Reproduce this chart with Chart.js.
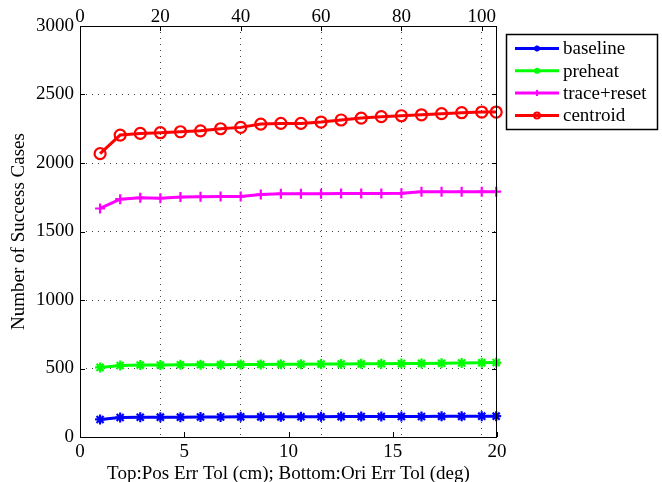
<!DOCTYPE html>
<html lang="en">
<head>
    <meta charset="UTF-8">
    <title>Number of Success Cases</title>
    <script src="https://cdn.jsdelivr.net/npm/chart.js"></script>
    <style>
        body {
            margin: 0;
            background: #ffffff;
        }
        #chart {
            display: block;
        }
    </style>
</head>
<body>
    <canvas id="chart" width="662" height="482"></canvas>

    <script>
        // position tolerance (cm) on the top axis; last point sits on the right edge
        var posTolCm = [5, 10, 15, 20, 25, 30, 35, 40, 45, 50, 55, 60, 65, 70, 75, 80, 85, 90, 95, 100, 103.6];

        var baseline   = [128, 142, 144, 145, 145, 146, 146, 147, 147, 147, 148, 148, 149, 149, 150, 150, 150, 151, 151, 152, 152];
        var preheat    = [508, 522, 525, 525, 527, 528, 528, 530, 530, 531, 531, 532, 533, 534, 535, 536, 537, 538, 540, 542, 543];
        var traceReset = [1668, 1736, 1746, 1743, 1751, 1753, 1756, 1756, 1770, 1775, 1775, 1775, 1778, 1777, 1778, 1779, 1790, 1790, 1790, 1791, 1791];
        var centroid   = [2068, 2204, 2216, 2221, 2228, 2235, 2250, 2260, 2284, 2289, 2289, 2299, 2314, 2328, 2338, 2345, 2352, 2360, 2367, 2372, 2372];

        var seriesNames = ["baseline", "preheat", "trace+reset", "centroid"];
        var seriesColors = ["#0000ff", "#00ff00", "#ff00ff", "#ff0000"];
        var seriesMarkers = ["star", "star", "cross", "circle"];

        var FONT = '"Liberation Serif", "Times New Roman", serif';

        function toPoints(ys) {
            return ys.map(function (y, i) { return { x: posTolCm[i], y: y }; });
        }

        var datasets = [baseline, preheat, traceReset, centroid].map(function (ys, i) {
            var isCircle = seriesMarkers[i] === "circle";
            return {
                label: seriesNames[i],
                data: toPoints(ys),
                xAxisID: "x",
                yAxisID: "y",
                borderColor: seriesColors[i],
                backgroundColor: seriesColors[i],
                borderWidth: 3,
                pointStyle: seriesMarkers[i],
                pointRadius: isCircle ? 5.5 : 5,
                pointBorderWidth: 2.2,
                pointBorderColor: seriesColors[i],
                pointBackgroundColor: isCircle ? "rgba(0,0,0,0)" : seriesColors[i],
                tension: 0,
                clip: false
            };
        });

        // box around the plot + inward tick marks, like matlab
        var frameTicks = {
            id: "frameTicks",
            afterDraw: function (chart) {
                var ctx = chart.ctx, a = chart.chartArea;
                ctx.save();
                ctx.strokeStyle = "#000";
                ctx.lineWidth = 1;
                ctx.strokeRect(a.left + 0.5, a.top + 0.5, a.right - a.left - 1, a.bottom - a.top);
                ctx.beginPath();
                chart.scales.y.ticks.forEach(function (t) {
                    var py = Math.round(chart.scales.y.getPixelForValue(t.value)) + 0.5;
                    ctx.moveTo(a.left, py); ctx.lineTo(a.left + 5, py);
                    ctx.moveTo(a.right, py); ctx.lineTo(a.right - 5, py);
                });
                chart.scales.x.ticks.forEach(function (t) {
                    var px = Math.round(chart.scales.x.getPixelForValue(t.value)) + 0.5;
                    ctx.moveTo(px, a.top); ctx.lineTo(px, a.top + 5);
                });
                chart.scales.xb.ticks.forEach(function (t) {
                    var px = Math.round(chart.scales.xb.getPixelForValue(t.value)) + 0.5;
                    ctx.moveTo(px, a.bottom); ctx.lineTo(px, a.bottom - 5);
                });
                ctx.stroke();
                ctx.restore();
            }
        };

        // legend box on the right, line + marker per entry
        var boxLegend = {
            id: "boxLegend",
            afterDraw: function (chart) {
                var ctx = chart.ctx;
                var left = 506, top = 34, w = 151, h = 95;
                ctx.save();
                ctx.fillStyle = "#fff";
                ctx.fillRect(left, top, w, h);
                ctx.strokeStyle = "#000";
                ctx.lineWidth = 1.5;
                ctx.strokeRect(left + 0.5, top + 0.5, w, h);
                chart.data.datasets.forEach(function (ds, i) {
                    var y = top + 14.5 + i * 22.3;
                    ctx.strokeStyle = ds.borderColor;
                    ctx.lineWidth = 3;
                    ctx.beginPath();
                    ctx.moveTo(515, y);
                    ctx.lineTo(559, y);
                    ctx.stroke();
                    drawMarker(ctx, ds.pointStyle, 537, y, 3, 2);
                    ctx.fillStyle = "#000";
                    ctx.font = "19px " + FONT;
                    ctx.textBaseline = "middle";
                    ctx.textAlign = "left";
                    ctx.fillText(ds.label, 563, y + 1);
                });
                ctx.restore();
            }
        };

        // uses current strokeStyle
        function drawMarker(ctx, style, x, y, r, lw) {
            ctx.fillStyle = ctx.strokeStyle;
            ctx.lineWidth = lw;
            if (style === "circle") {
                ctx.beginPath();
                ctx.arc(x, y, r, 0, Math.PI * 2);
                ctx.stroke();
                return;
            }
            Chart.helpers.drawPoint(ctx, { pointStyle: style, radius: r, borderWidth: lw }, x, y);
        }

        var tickFont = { family: FONT, size: 19 };
        var plainNum = function (v) { return String(v); };

        new Chart(document.getElementById("chart"), {
            type: "line",
            data: { datasets: datasets },
            plugins: [frameTicks, boxLegend],
            options: {
                responsive: false,
                animation: false,
                devicePixelRatio: 1,
                layout: { padding: { left: 0, right: 165, top: 0, bottom: 0 } },
                plugins: {
                    legend: { display: false },
                    tooltip: { enabled: false }
                },
                scales: {
                    x: {
                        type: "linear",
                        position: "top",
                        min: 0,
                        max: 103.8,
                        afterFit: function (s) { s.height = 26; },
                        ticks: { stepSize: 20, includeBounds: false, font: tickFont, color: "#000", padding: -2, maxRotation: 0, callback: plainNum },
                        grid: { color: "#444", lineWidth: 1, drawTicks: false },
                        border: { display: false, dash: [1, 5] }
                    },
                    xb: {
                        type: "linear",
                        position: "bottom",
                        min: 0,
                        max: 20,
                        afterFit: function (s) { s.height = 45; },
                        ticks: { stepSize: 5, font: tickFont, color: "#000", padding: 4, maxRotation: 0, callback: plainNum },
                        grid: { display: false, drawTicks: false },
                        border: { display: false },
                        title: {
                            display: true,
                            text: "Top:Pos Err Tol (cm); Bottom:Ori Err Tol (deg)",
                            font: tickFont,
                            color: "#000",
                            padding: { top: 0, bottom: -3 }
                        }
                    },
                    y: {
                        type: "linear",
                        position: "left",
                        min: 0,
                        max: 3000,
                        afterFit: function (s) { s.width = 80; },
                        ticks: { stepSize: 500, font: tickFont, color: "#000", padding: 6, callback: plainNum },
                        grid: { color: "#444", lineWidth: 1, drawTicks: false },
                        border: { display: false, dash: [1, 5] },
                        title: {
                            display: true,
                            text: "Number of Success Cases",
                            font: tickFont,
                            color: "#000",
                            padding: { top: 8, bottom: 0 }
                        }
                    }
                }
            }
        });
    </script>
</body>
</html>
